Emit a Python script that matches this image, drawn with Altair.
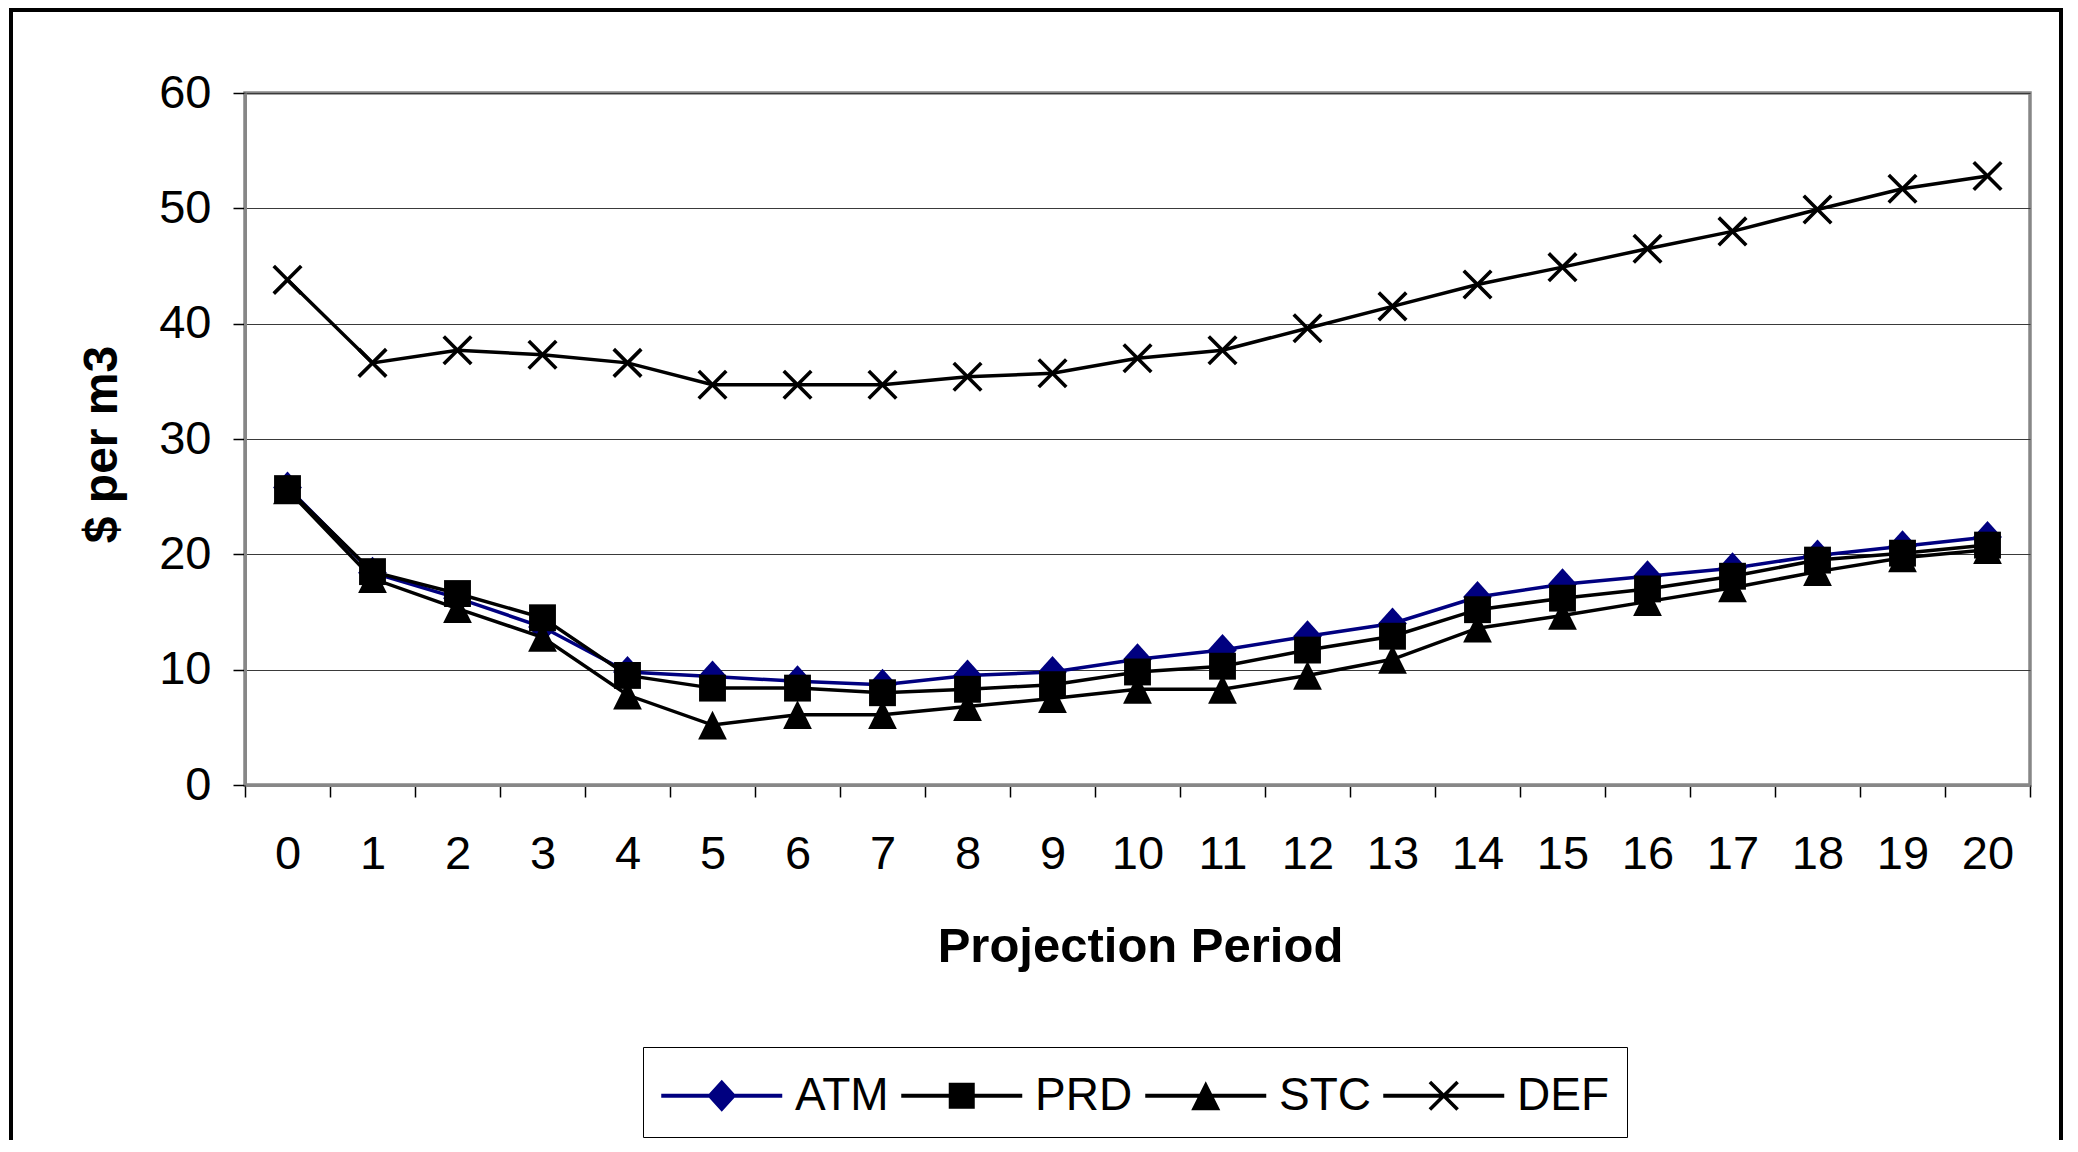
import altair as alt
import pandas as pd

# ---------------- data ----------------
periods = list(range(21))
series_names = ["ATM", "PRD", "STC", "DEF"]
atm = [25.8, 18.4, 16.2, 13.7, 9.8, 9.4, 9.0, 8.7, 9.5, 9.8, 10.9, 11.7, 12.9, 14.0, 16.3, 17.4, 18.1, 18.8, 19.9, 20.7, 21.5]
prd = [25.7, 18.5, 16.6, 14.5, 9.5, 8.4, 8.4, 8.0, 8.3, 8.7, 9.8, 10.3, 11.7, 12.9, 15.2, 16.2, 17.0, 18.1, 19.5, 20.1, 20.8]
stc = [25.6, 17.9, 15.3, 12.8, 7.8, 5.2, 6.1, 6.1, 6.8, 7.5, 8.3, 8.3, 9.5, 10.9, 13.6, 14.7, 15.9, 17.1, 18.5, 19.7, 20.4]
dfv = [43.8, 36.6, 37.7, 37.3, 36.6, 34.7, 34.7, 34.7, 35.4, 35.7, 37.0, 37.7, 39.6, 41.5, 43.4, 44.9, 46.5, 48.0, 49.9, 51.7, 52.8]
y_ticks = [0, 10, 20, 30, 40, 50, 60]

rows = []
for name, vals in zip(series_names, [atm, prd, stc, dfv]):
    for p, v in zip(periods, vals):
        rows.append({"period": p, "value": v, "series": name})
df = pd.DataFrame(rows)

# ---------------- styles ----------------
FONT = "Liberation Sans"
colors = ["#000080", "#000000", "#000000", "#000000"]

# plot markers (unit = 16px, size 1024)
marker_paths = [
    "M0,-1L0.9,0L0,1L-0.9,0Z",
    "M-0.84,-0.84L0.84,-0.84L0.84,0.84L-0.84,0.84Z",
    "M0,-0.9L0.9,0.9L-0.9,0.9Z",
    "M0,-0.159L0.78,-0.94L0.94,-0.78L0.159,0L0.94,0.78L0.78,0.94L0,0.159"
    "L-0.78,0.94L-0.94,0.78L-0.159,0L-0.94,-0.78L-0.78,-0.94Z",
]

# legend symbols: line + marker (unit = 30.25px, size 3660)
LINE = "M-1,-0.066L3,-0.066L3,0.066L-1,0.066Z"
legend_paths = [
    LINE + "M1,-0.53L1.48,0L1,0.53L0.52,0Z",
    LINE + "M0.57,-0.43L1.43,-0.43L1.43,0.43L0.57,0.43Z",
    LINE + "M1,-0.48L1.48,0.48L0.52,0.48Z",
    LINE + "M1,-0.084L1.416,-0.5L1.5,-0.416L1.084,0L1.5,0.416L1.416,0.5L1,0.084"
    "L0.584,0.5L0.5,0.416L0.916,0L0.5,-0.416L0.584,-0.5Z",
]

x_enc = alt.X(
    "period:O",
    scale=alt.Scale(type="band", paddingInner=0, paddingOuter=0),
    axis=alt.Axis(
        title="Projection Period",
        tickBand="extent",
        labelAngle=0,
        grid=False,
        domainColor="#878787",
        domainWidth=3,
        tickColor="#000000",
        tickSize=12,
        tickWidth=1.5,
        labelFont=FONT,
        labelFontSize=47,
        labelColor="#000000",
        labelPadding=34,
        titleFont=FONT,
        titleFontSize=49,
        titleFontWeight="bold",
        titleColor="#000000",
        titleX=895,
        titleY=176,
        titleBaseline="alphabetic",
        titleAlign="center",
    ),
)
y_enc = alt.Y(
    "value:Q",
    scale=alt.Scale(domain=[0, 60], nice=False, zero=True),
    axis=alt.Axis(
        title="$ per m3",
        values=y_ticks,
        grid=True,
        gridColor="#3a3a3a",
        gridWidth=1.2,
        domainColor="#878787",
        domainWidth=3,
        tickColor="#000000",
        tickSize=12,
        tickWidth=1.5,
        labelFont=FONT,
        labelFontSize=47,
        labelColor="#000000",
        labelPadding=22,
        titleFont=FONT,
        titleFontSize=48,
        titleFontWeight="bold",
        titleColor="#000000",
        titleAngle=270,
        titleX=-129,
        titleY=351,
        titleBaseline="alphabetic",
        titleAlign="center",
    ),
)

base = alt.Chart(df)
layers = []

frame = alt.Chart(alt.Data(values=[{}])).mark_rect(
    filled=False, stroke="#000000", strokeWidth=4
).encode(
    x=alt.value(-234), x2=alt.value(1816), y=alt.value(-83), y2=alt.value(1100)
)
layers.append(frame)

for name, col, path in zip(series_names, colors, marker_paths):
    sub = base.transform_filter(alt.datum.series == name)
    layers.append(sub.mark_line(color=col, strokeWidth=3.5).encode(x=x_enc, y=y_enc))
    layers.append(
        sub.mark_point(shape=path, filled=True, color=col, size=1024, opacity=1, strokeWidth=0)
        .encode(x=x_enc, y=y_enc)
    )

legend = alt.Legend(
    title=None,
    orient="none",
    legendX=398,
    legendY=954,
    direction="horizontal",
    columns=4,
    symbolSize=3660,
    symbolStrokeWidth=0,
    labelFont=FONT,
    labelFontSize=46,
    labelColor="#000000",
    labelOffset=73,
    columnPadding=12,
    padding=18,
    strokeColor="#000000",
    fillColor="#ffffff",
)
legend_layer = base.transform_filter("false").mark_point(filled=True, opacity=1).encode(
    color=alt.Color("series:N", scale=alt.Scale(domain=series_names, range=colors), legend=legend),
    shape=alt.Shape("series:N", scale=alt.Scale(domain=series_names, range=legend_paths), legend=legend),
)
layers.append(legend_layer)

chart = (
    alt.layer(*layers)
    .properties(
        width=1785,
        height=692,
        padding={"left": 237, "top": 85, "right": 40, "bottom": 355},
        autosize=alt.AutoSizeParams(type="none"),
        background="#ffffff",
    )
    .configure_view(stroke="#878787", strokeWidth=3.5)
)

chart.save("out.html", embed_options={"renderer": "svg", "actions": False})
